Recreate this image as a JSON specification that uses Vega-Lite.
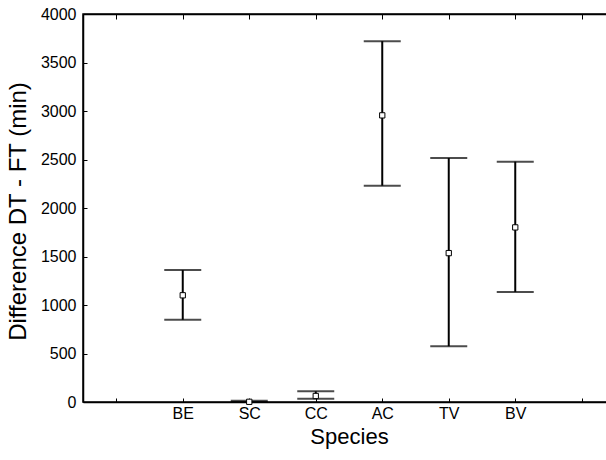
{
  "$schema": "https://vega.github.io/schema/vega-lite/v6.json",
  "width": 532,
  "height": 388,
  "autosize": "none",
  "padding": {"left": 83, "top": 14, "right": 0, "bottom": 58},
  "background": "white",
  "config": {
    "font": "Liberation Sans",
    "view": {"stroke": "black", "strokeWidth": 1.5},
    "axis": {"grid": false, "domainColor": "black", "domainWidth": 1.5, "tickColor": "black", "tickSize": -4, "labelColor": "black", "titleColor": "black", "labelFont": "Liberation Sans", "titleFont": "Liberation Sans", "titleFontWeight": "normal", "labelFontSize": 16, "titleFontSize": 22},
    "axisY": {"labelPadding": 11, "titlePadding": 10, "titleFontSize": 24, "titleY": 197},
    "axisBottom": {"labelPadding": 7, "titlePadding": 5, "labelAngle": 0}
  },
  "data": {
    "values": [
      {"species": "BE", "mean": 1100, "lower": 848, "upper": 1360},
      {"species": "SC", "mean": 2, "lower": -5, "upper": 12},
      {"species": "CC", "mean": 62, "lower": 34, "upper": 110},
      {"species": "AC", "mean": 2955, "lower": 2230, "upper": 3720},
      {"species": "TV", "mean": 1535, "lower": 575, "upper": 2515},
      {"species": "BV", "mean": 1800, "lower": 1135, "upper": 2478}
    ]
  },
  "layer": [
    {
      "mark": {"type": "rule", "color": "black", "strokeWidth": 2},
      "encoding": {
        "x": {
          "field": "species",
          "type": "nominal",
          "scale": {"type": "point", "domain": ["_a", "BE", "SC", "CC", "AC", "TV", "BV", "_b"], "padding": 0.5},
          "axis": {"orient": "bottom", "title": "Species", "labelExpr": "indexof(datum.value, '_') == 0 ? '' : datum.value"}
        },
        "y": {"field": "lower", "type": "quantitative", "scale": {"domain": [0, 4000], "nice": false, "clamp": true},
          "axis": {"title": "Difference DT - FT (min)", "format": "d", "values": [0, 500, 1000, 1500, 2000, 2500, 3000, 3500, 4000]}},
        "y2": {"field": "upper"}
      }
    },
    {
      "mark": {"type": "tick", "color": "black", "thickness": 2, "size": 37},
      "encoding": {
        "x": {"field": "species", "type": "nominal", "axis": {"orient": "top", "title": null, "labels": false, "ticks": true, "tickSize": -5, "tickWidth": 1, "tickColor": "black", "tickOpacity": 1, "zindex": 2}},
        "y": {"field": "lower", "type": "quantitative"}
      }
    },
    {
      "mark": {"type": "tick", "color": "black", "thickness": 2, "size": 37},
      "encoding": {
        "x": {"field": "species", "type": "nominal", "axis": null},
        "y": {"field": "upper", "type": "quantitative"}
      }
    },
    {
      "mark": {"type": "point", "shape": "square", "filled": false, "fill": "white", "fillOpacity": 1, "stroke": "black", "strokeWidth": 1, "size": 28, "opacity": 1},
      "encoding": {
        "x": {"field": "species", "type": "nominal", "axis": null},
        "y": {"field": "mean", "type": "quantitative"}
      }
    }
  ],
  "resolve": {"axis": {"x": "independent"}}
}
